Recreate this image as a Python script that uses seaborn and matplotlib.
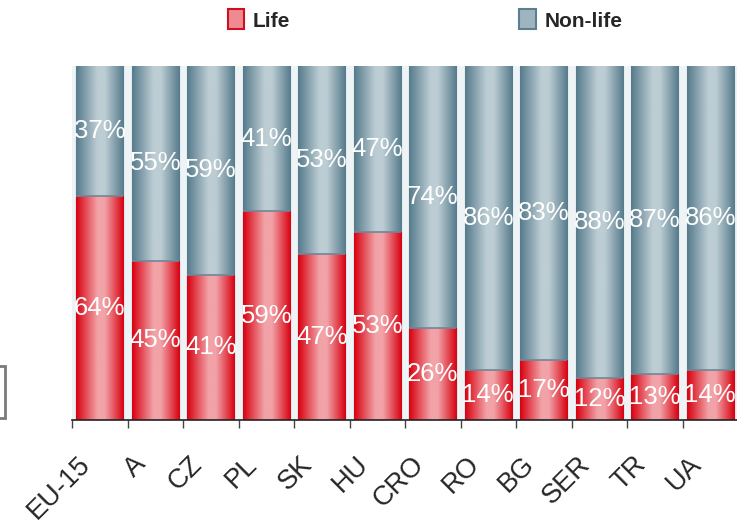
import numpy as np
import matplotlib
matplotlib.use("Agg")
import matplotlib.pyplot as plt
import seaborn as sns
from matplotlib.colors import LinearSegmentedColormap
from matplotlib.patches import Rectangle, Patch
from matplotlib.transforms import ScaledTranslation

categories = ["EU-15", "A", "CZ", "PL", "SK", "HU", "CRO", "RO", "BG", "SER", "TR", "UA"]
life = [64, 45, 41, 59, 47, 53, 26, 14, 17, 12, 13, 14]
nonlife = [37, 55, 59, 41, 53, 47, 74, 86, 83, 88, 87, 86]
series_names = ["Life", "Non-life"]

sns.set_theme(style="white")
plt.rcParams["font.family"] = ["Liberation Sans", "DejaVu Sans"]

life_a = np.array(life, float)
non_a = np.array(nonlife, float)
share_life = life_a / (life_a + non_a) * 100

W, H = 737, 524
fig = plt.figure(figsize=(W / 100, H / 100), dpi=100)
ax = fig.add_axes([72 / W, 1 - 420 / H, 666 / W, 354 / H])
ax.set_facecolor("#EEF3F6")

red_edge, red_mid = "#D8000F", "#F2A3A8"
grey_edge, grey_mid = "#557A8B", "#BDCDD4"

full = np.full(len(categories), 100.0)
sns.barplot(x=categories, y=full, color=grey_mid, width=0.85, ax=ax,
            edgecolor="#5B7F90", linewidth=0.8, saturation=1)
n_non = len(ax.patches)
sns.barplot(x=categories, y=share_life, color=red_mid, width=0.85, ax=ax,
            edgecolor="#6F8796", linewidth=0.8, saturation=1)

cmap_red = LinearSegmentedColormap.from_list("r", [(0, red_edge), (0.45, red_mid), (0.6, red_mid), (1, red_edge)])
cmap_grey = LinearSegmentedColormap.from_list("g", [(0, grey_edge), (0.45, grey_mid), (0.6, grey_mid), (1, grey_edge)])
grad = np.linspace(0, 1, 256).reshape(1, -1)
for i, p in enumerate(ax.patches):
    x0, y0 = p.get_x(), p.get_y()
    w, h = p.get_width(), p.get_height()
    cm = cmap_grey if i < n_non else cmap_red
    im = ax.imshow(grad, cmap=cm, extent=[x0, x0 + w, y0, y0 + h], aspect="auto",
                   zorder=p.get_zorder() + 0.01 + (0.5 if i >= n_non else 0), interpolation="bicubic")
    im.set_clip_path(p)
    if i >= n_non:
        p.set_zorder(p.get_zorder() + 0.5)
        p.set_facecolor(red_mid)
        ax.plot([x0, x0 + w], [y0 + h, y0 + h], color="#6F8796", lw=1.2,
                zorder=p.get_zorder() + 0.6, solid_capstyle="butt")

ax.set_xlim(-0.5, len(categories) - 0.5)
ax.set_ylim(0, 100)

for i, (l, n) in enumerate(zip(life, nonlife)):
    s = share_life[i]
    ax.text(i, s / 2, f"{l}%", color="white", ha="center", va="center", fontsize=18.5, zorder=10)
    ax.text(i, s + (100 - s) / 2, f"{n}%", color="white", ha="center", va="center", fontsize=18.5, zorder=10)

for sp in ["top", "left", "right"]:
    ax.spines[sp].set_visible(False)
ax.spines["bottom"].set_color("#222222")
ax.spines["bottom"].set_linewidth(1.2)
ax.spines["bottom"].set_zorder(20)
ax.set_yticks([])
ax.set_ylabel("")
ax.set_xlabel("")
ax.set_xticks(np.arange(len(categories)))
ax.set_xticklabels(categories, rotation=45, ha="right", va="center", rotation_mode="anchor", fontsize=19.5)
ax.set_xticks(np.arange(-0.5, len(categories), 1), minor=True)
ax.tick_params(axis="x", which="major", length=0, pad=29)
ax.tick_params(axis="x", which="minor", length=6, width=1, color="#444444", direction="out", bottom=True)
offset = ScaledTranslation(-13 / 100, 0, fig.dpi_scale_trans)
for lab in ax.get_xticklabels():
    lab.set_transform(lab.get_transform() + offset)

handles = [Patch(facecolor="#EE8A92", edgecolor="#D0101F", linewidth=1.5),
           Patch(facecolor="#9FB4BE", edgecolor="#5B7F90", linewidth=1.5)]
leg = fig.legend(handles, series_names, loc="center", bbox_to_anchor=(425 / W, 1 - 20 / H),
                 ncol=2, frameon=False, prop={"weight": "bold", "size": 15},
                 handlelength=0.8, handleheight=1.1, handletextpad=0.4, columnspacing=11.0)

fig.patches.append(Rectangle((-10 / W, 1 - 418 / H), 15 / W, 52 / H, transform=fig.transFigure,
                             fill=False, edgecolor="#7A7A7A", linewidth=2, figure=fig))

fig.savefig("out.png", dpi=100)
